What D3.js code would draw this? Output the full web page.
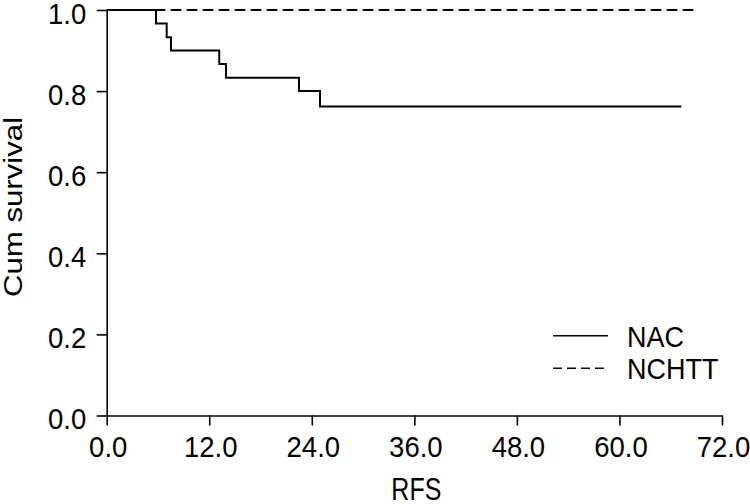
<!DOCTYPE html>
<html><head><meta charset="utf-8">
<script src="https://cdn.jsdelivr.net/npm/d3@7"></script>
<style>body{margin:0;background:#fff}svg{display:block}text{font-family:"Liberation Sans",Arial,sans-serif;fill:#000}</style>
</head><body><svg id="c" width="750" height="504"></svg>
<script>
const nacTimes = [0, 5.77, 7.02, 7.52, 13.17, 13.96, 22.5, 24.96, 67.24];
const nacSurv  = [1.0, 0.967, 0.933, 0.9, 0.867, 0.833, 0.8, 0.762, 0.762];
const nchttTimes = [0, 68.73];
const nchttSurv  = [1.0, 1.0];
const xTicks = [0, 12, 24, 36, 48, 60, 72];
const yTicks = [0, 0.2, 0.4, 0.6, 0.8, 1.0];
const seriesNames = ["NAC", "NCHTT"];

const svg = d3.select("#c");
const x = d3.scaleLinear().domain([0, 72]).range([106.7, 722]);
const y = d3.scaleLinear().domain([0, 1]).range([415.5, 10]);
const fs = 27.5;
const ts = 1.08;
const font = '"Liberation Sans",Arial,sans-serif';

const xAxis = svg.append("g").attr("transform", `translate(0,${y(0)})`)
  .call(d3.axisBottom(x).tickValues(xTicks).tickFormat(d3.format(".1f")).tickSize(10).tickSizeOuter(0));
const yAxis = svg.append("g").attr("transform", `translate(${x(0)},0)`)
  .call(d3.axisLeft(y).tickValues(yTicks).tickFormat(d3.format(".1f")).tickSize(10).tickSizeOuter(0));
[xAxis, yAxis].forEach(g => {
  g.attr("font-size", null).attr("font-family", null);
  g.selectAll("path,line").attr("stroke", "#000").attr("stroke-width", 1.6);
  g.selectAll("text").style("font-size", fs + "px").style("font-family", font)
    .attr("dy", null).attr("transform", `scale(1,${ts})`);
});
xAxis.selectAll("text").attr("x", 1).attr("y", 41.5 / ts);
yAxis.selectAll("text").attr("x", -20.5).attr("y", 13 / ts);

const line = d3.line().x(d => x(d[0])).y(d => y(d[1])).curve(d3.curveStepAfter);
svg.append("path").datum(nacTimes.map((t, i) => [t, nacSurv[i]]))
  .attr("d", line).attr("fill", "none").attr("stroke", "#000").attr("stroke-width", 2);
svg.append("path").datum(nchttTimes.map((t, i) => [t, nchttSurv[i]]))
  .attr("d", line).attr("fill", "none").attr("stroke", "#000").attr("stroke-width", 2)
  .attr("stroke-dasharray", "10.7,5.3");

svg.append("text").attr("transform", `translate(${x(36) + 2},500) scale(1,1.22)`).attr("text-anchor", "middle")
  .style("font-size", "25px").text("RFS");
svg.append("text").attr("transform", `translate(22,207) rotate(-90) scale(1.2,1)`).attr("text-anchor", "middle")
  .style("font-size", "26px").text("Cum survival");

const leg = svg.append("g");
seriesNames.forEach((n, i) => {
  const yy = 335.7 + i * 32.5;
  leg.append("line").attr("x1", 553).attr("x2", 608).attr("y1", yy).attr("y2", yy)
    .attr("stroke", "#000").attr("stroke-width", 1.6)
    .attr("stroke-dasharray", i === 1 ? "9,5" : null);
  leg.append("text").attr("transform", `translate(627,${yy + 11}) scale(1,1.12)`)
    .style("font-size", "27px").text(n);
});
</script></body></html>
